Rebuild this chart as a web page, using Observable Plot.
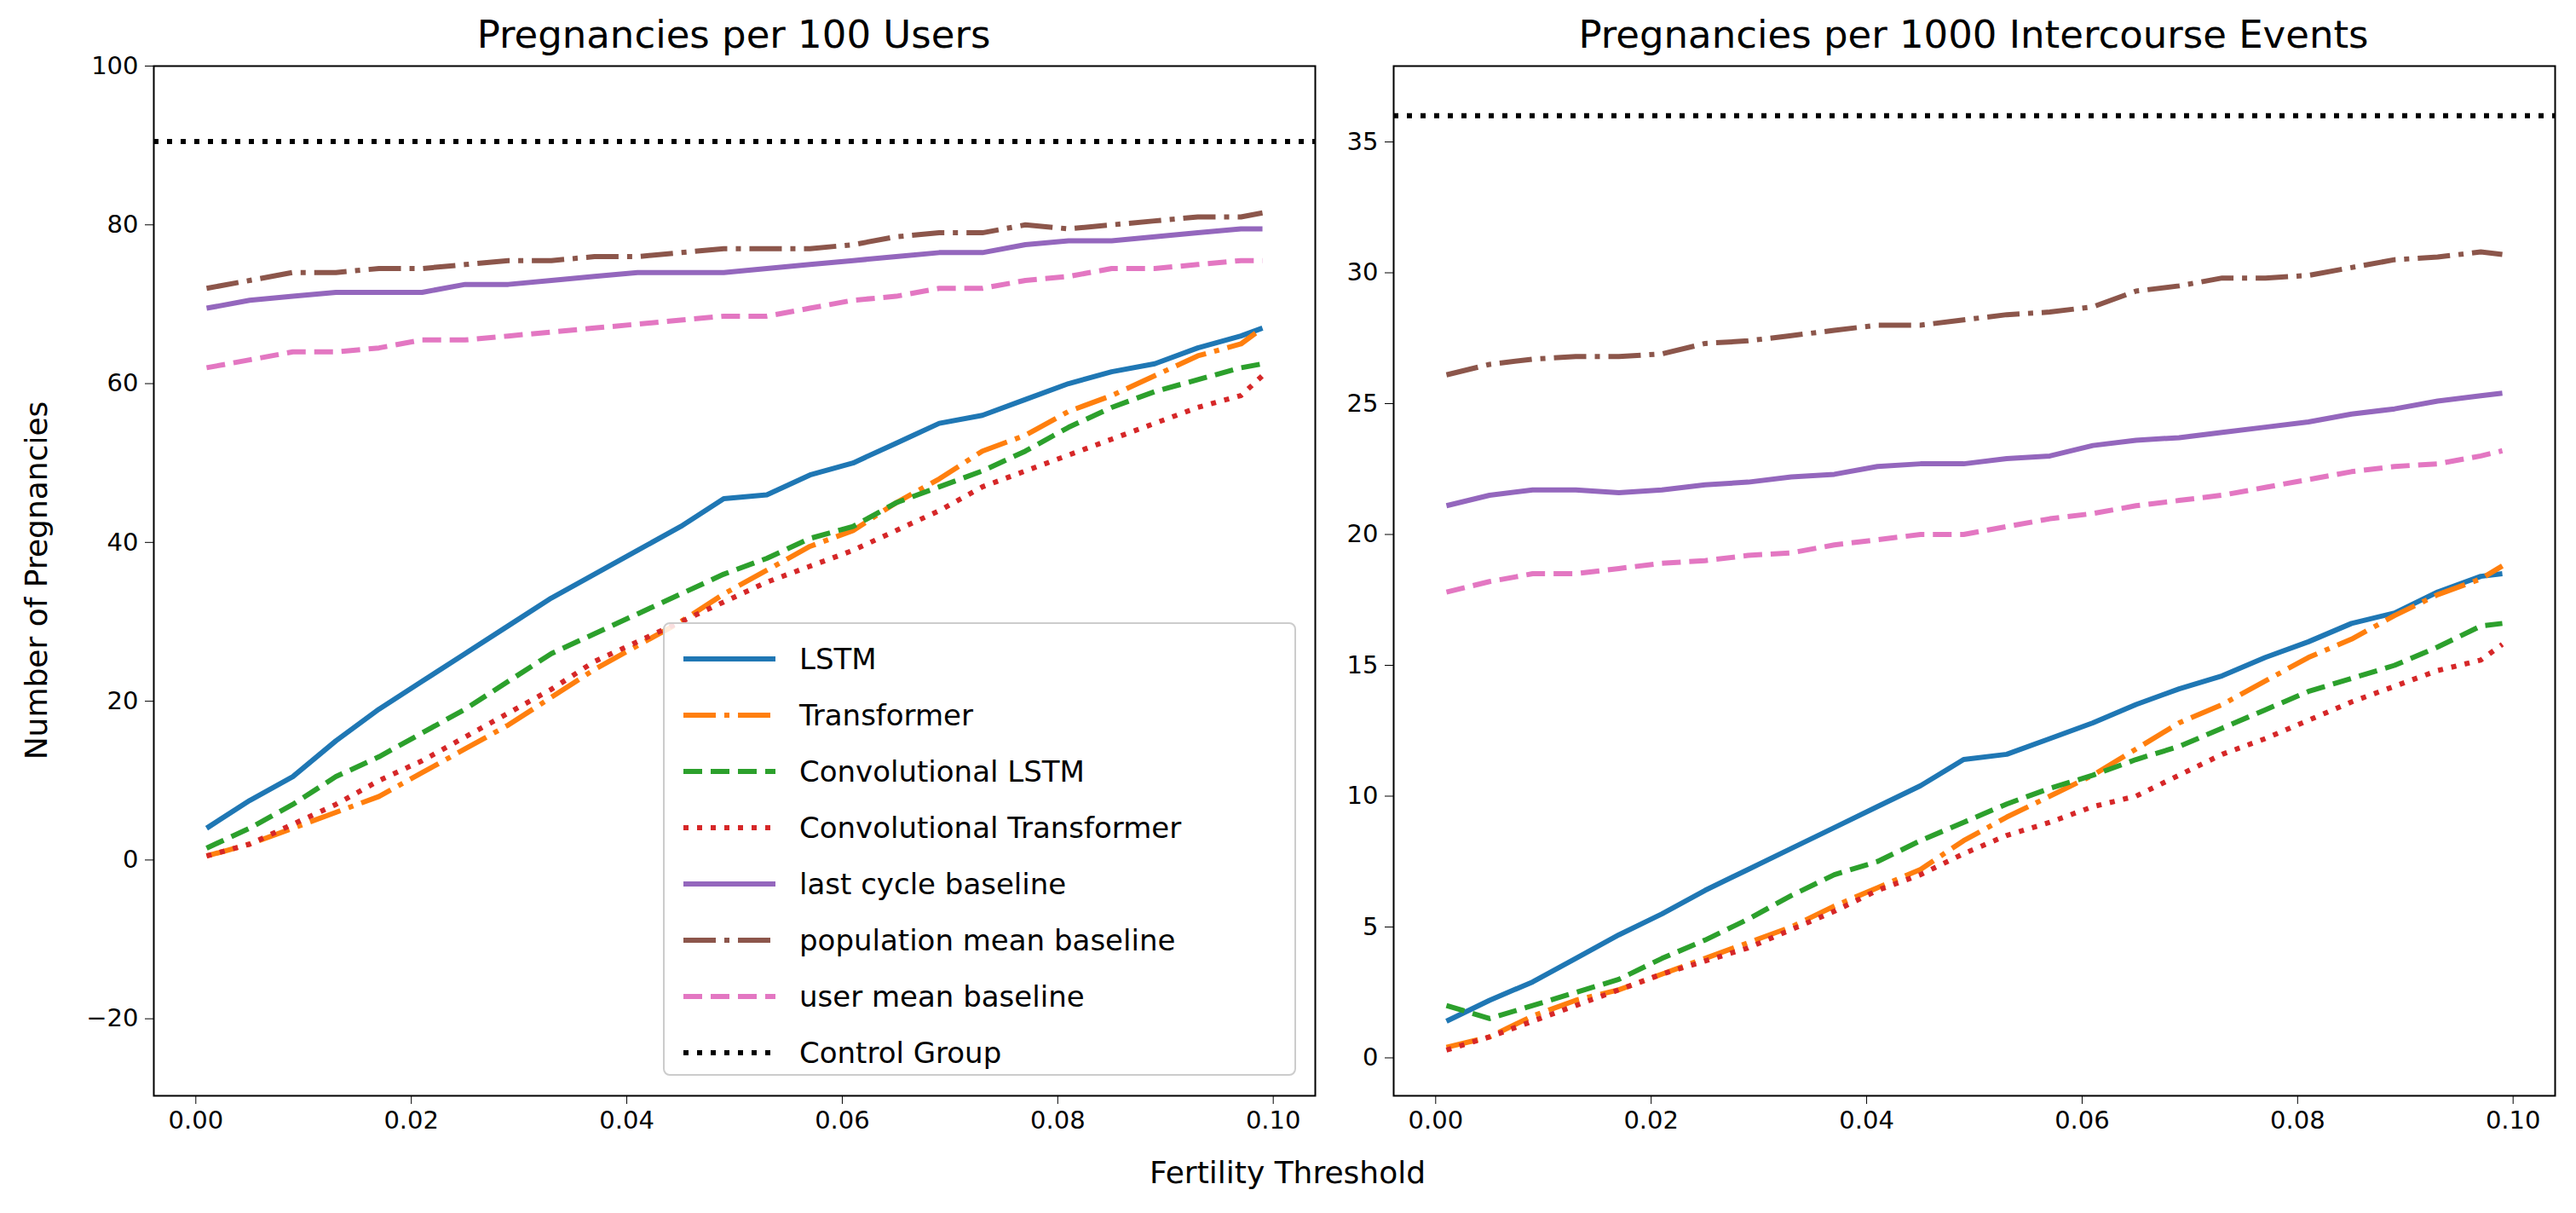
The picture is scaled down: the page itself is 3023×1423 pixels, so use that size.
<!DOCTYPE html>
<html><head><meta charset="utf-8">
<script src="https://cdn.jsdelivr.net/npm/d3@7"></script>
<script src="https://cdn.jsdelivr.net/npm/@observablehq/plot@0.6"></script>
<style>
body{margin:0;background:#fff;font-family:"DejaVu Sans",sans-serif;}
#wrap{position:relative;width:3023px;height:1423px;}
.panel{position:absolute;top:0;}
.t{position:absolute;font-size:45px;color:#000;white-space:nowrap;transform:translateX(-50%);}
#legend{position:absolute;left:778px;top:730px;width:743px;height:532px;border:2px solid #ccc;border-radius:8px;background:rgba(255,255,255,0.85);box-sizing:border-box;}
.li{position:absolute;left:20px;font-size:34px;height:66px;display:flex;align-items:center;}
.li svg{margin-right:26px}
</style></head><body>
<div id="wrap"></div>
<script>
const xs=[0.001,0.005,0.009,0.013,0.017,0.021,0.025,0.029,0.033,0.037,0.041,0.045,0.049,0.053,0.057,0.061,0.065,0.069,0.073,0.077,0.081,0.085,0.089,0.093,0.097,0.099];
const seriesNames=["LSTM","Transformer","Convolutional LSTM","Convolutional Transformer","last cycle baseline","population mean baseline","user mean baseline"];
const colors=["#1f77b4","#ff7f0e","#2ca02c","#d62728","#9467bd","#8c564b","#e377c2"];
const dashes=["none","38,10,6,10","22,10","6,10","none","38,10,6,10","22,10"];
const leftVals=[
[4,7.5,10.5,15,19,22.5,26,29.5,33,36,39,42,45.5,46,48.5,50,52.5,55,56,58,60,61.5,62.5,64.5,66,67],
[0.5,2,4,6,8,11,14,17,20.5,24,27,30,33.5,36.5,39.5,41.5,45,48,51.5,53.5,56.5,58.5,61,63.5,65,67],
[1.5,4,7,10.5,13,16,19,22.5,26,28.5,31,33.5,36,38,40.5,42,45,47,49,51.5,54.5,57,59,60.5,62,62.5],
[0.5,2,4.5,7,10,12.5,15.5,18.5,21.5,25,27.5,30,32.5,35,37,39,41.5,44,47,49,51,53,55,57,58.5,61],
[69.5,70.5,71,71.5,71.5,71.5,72.5,72.5,73,73.5,74,74,74,74.5,75,75.5,76,76.5,76.5,77.5,78,78,78.5,79,79.5,79.5],
[72,73,74,74,74.5,74.5,75,75.5,75.5,76,76,76.5,77,77,77,77.5,78.5,79,79,80,79.5,80,80.5,81,81,81.5],
[62,63,64,64,64.5,65.5,65.5,66,66.5,67,67.5,68,68.5,68.5,69.5,70.5,71,72,72,73,73.5,74.5,74.5,75,75.5,75.5]];
const rightVals=[
[1.4,2.2,2.9,3.8,4.7,5.5,6.4,7.2,8.0,8.8,9.6,10.4,11.4,11.6,12.2,12.8,13.5,14.1,14.6,15.3,15.9,16.6,17.0,17.8,18.4,18.5],
[0.4,0.8,1.6,2.2,2.6,3.2,3.8,4.4,5.0,5.8,6.5,7.2,8.3,9.2,10.0,10.8,11.8,12.8,13.5,14.4,15.3,16.0,16.9,17.7,18.3,18.8],
[2.0,1.5,2.0,2.5,3.0,3.8,4.5,5.3,6.2,7.0,7.5,8.3,9.0,9.7,10.3,10.8,11.4,11.9,12.6,13.3,14.0,14.5,15.0,15.7,16.5,16.6],
[0.3,0.8,1.4,2.0,2.6,3.2,3.7,4.2,4.9,5.6,6.4,7.0,7.8,8.5,9.0,9.6,10.0,10.8,11.6,12.2,12.9,13.6,14.2,14.8,15.2,15.8],
[21.1,21.5,21.7,21.7,21.6,21.7,21.9,22.0,22.2,22.3,22.6,22.7,22.7,22.9,23.0,23.4,23.6,23.7,23.9,24.1,24.3,24.6,24.8,25.1,25.3,25.4],
[26.1,26.5,26.7,26.8,26.8,26.9,27.3,27.4,27.6,27.8,28.0,28.0,28.2,28.4,28.5,28.7,29.3,29.5,29.8,29.8,29.9,30.2,30.5,30.6,30.8,30.7],
[17.8,18.2,18.5,18.5,18.7,18.9,19.0,19.2,19.3,19.6,19.8,20.0,20.0,20.3,20.6,20.8,21.1,21.3,21.5,21.8,22.1,22.4,22.6,22.7,23.0,23.2]];
const controlLeft=90.5, controlRight=36;
const xTicks=[0,0.02,0.04,0.06,0.08,0.10];
const yTicksLeft=[-20,0,20,40,60,80,100];
const yTicksRight=[0,5,10,15,20,25,30,35];

function panel(vals,control,yDomain,yTicks,width,ml,mr){
  const marks=[];
  vals.forEach((arr,i)=>{
    const d=xs.map((x,j)=>({x,y:arr[j]}));
    marks.push(Plot.line(d,{x:"x",y:"y",stroke:colors[i],strokeWidth:6,strokeDasharray:dashes[i],strokeLinecap:"butt",strokeLinejoin:"round"}));
  });
  marks.push(Plot.ruleY([control],{stroke:"#000",strokeWidth:6,strokeDasharray:"6,10"}));
  marks.push(Plot.frame({stroke:"#000",strokeWidth:2}));
  return Plot.plot({width,height:1423,marginLeft:ml,marginRight:mr,marginTop:77,marginBottom:138,
    style:{fontFamily:"DejaVu Sans",fontSize:"29px",color:"#000",overflow:"visible"},
    x:{domain:[-0.0039,0.1039],ticks:xTicks,tickFormat:".2f",tickSize:10,tickPadding:8,label:null},
    y:{domain:yDomain,ticks:yTicks,tickSize:10,tickPadding:8,label:null},
    marks});
}
const wrap=document.getElementById("wrap");
const p1=panel(leftVals,controlLeft,[-29.7,100],yTicksLeft,1560,180,17);
p1.classList.add("panel");p1.style.left="0px";wrap.appendChild(p1);
const p2=panel(rightVals,controlRight,[-1.45,37.9],yTicksRight,1463,75,25);
p2.classList.add("panel");p2.style.left="1560px";wrap.appendChild(p2);

function txt(s,x,y,extra){const d=document.createElement("div");d.className="t";d.textContent=s;d.style.left=x+"px";d.style.top=y+"px";if(extra)Object.assign(d.style,extra);wrap.appendChild(d);}
txt("Pregnancies per 100 Users",861,14);
txt("Pregnancies per 1000 Intercourse Events",2316,14);
txt("Fertility Threshold",1511,1355,{fontSize:"36px"});
txt("Number of Pregnancies",42,681,{fontSize:"36px",transform:"translate(-50%,-50%) rotate(-90deg)"});

const lg=document.createElement("div");lg.id="legend";wrap.appendChild(lg);
const names=seriesNames.concat(["Control Group"]);
const cols=colors.concat(["#000"]);const ds=dashes.concat(["6,10"]);
names.forEach((n,i)=>{
  const it=document.createElement("div");it.className="li";it.style.top=(8+i*66)+"px";
  it.innerHTML=`<svg width="112" height="20"><line x1="2" y1="10" x2="110" y2="10" stroke="${cols[i]}" stroke-width="6" stroke-dasharray="${ds[i]}"/></svg><span>${n}</span>`;
  lg.appendChild(it);
});
</script></body></html>
